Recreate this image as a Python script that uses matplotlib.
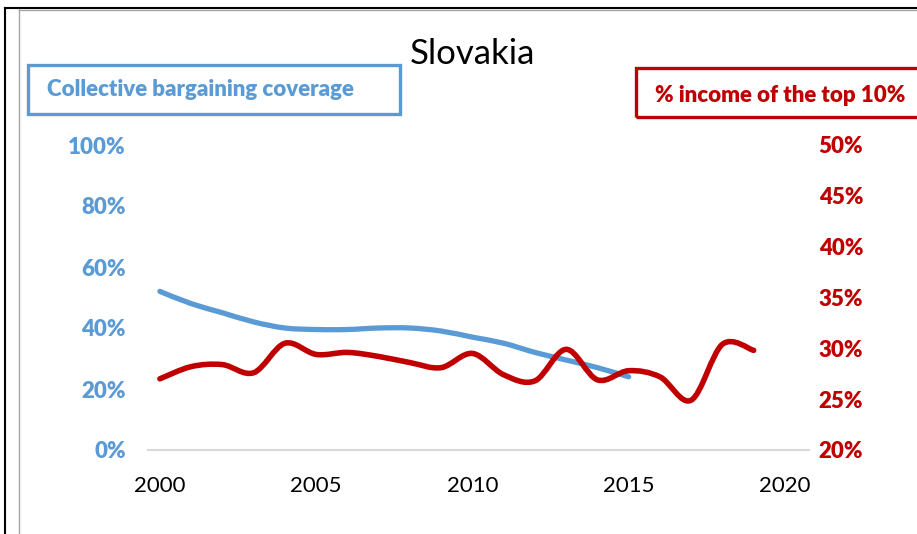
import numpy as np
import matplotlib
matplotlib.use('Agg')
import matplotlib.pyplot as plt
from matplotlib.path import Path
from matplotlib.patches import PathPatch, Rectangle
from matplotlib.lines import Line2D

plt.rcParams['font.family'] = ['Lato', 'DejaVu Sans']

# data
years_cb = [2000, 2001, 2002, 2003, 2004, 2005, 2006, 2007, 2008, 2009, 2010, 2011, 2012, 2013, 2014, 2015]
coverage = [0.52, 0.48, 0.45, 0.42, 0.40, 0.395, 0.395, 0.40, 0.40, 0.39, 0.37, 0.35, 0.32, 0.295, 0.27, 0.24]

years_top = list(range(2000, 2020))
top10 = [0.270, 0.282, 0.284, 0.276, 0.305, 0.294, 0.296, 0.292, 0.286, 0.281,
         0.295, 0.274, 0.268, 0.299, 0.269, 0.278, 0.272, 0.249, 0.304, 0.298]

left_ticks = [0, 0.2, 0.4, 0.6, 0.8, 1.0]
right_ticks = [0.20, 0.25, 0.30, 0.35, 0.40, 0.45, 0.50]
x_ticks = [2000, 2005, 2010, 2015, 2020]

BLUE = '#5B9BD5'
RED = '#C00000'


def smooth_path(xs, ys):
    # excel-like smoothed line: catmull-rom segments as cubic beziers
    p = np.column_stack([xs, ys]).astype(float)
    verts = [p[0]]
    codes = [Path.MOVETO]
    n = len(p)
    for i in range(n - 1):
        p0 = p[i - 1] if i > 0 else p[i]
        p1 = p[i]
        p2 = p[i + 1]
        p3 = p[i + 2] if i + 2 < n else p[i + 1]
        verts += [p1 + (p2 - p0) / 6, p2 - (p3 - p1) / 6, p2]
        codes += [Path.CURVE4] * 3
    return Path(verts, codes)


fig = plt.figure(figsize=(9.17, 5.34), dpi=100)
W, H = 917, 534

ax = fig.add_axes([148 / W, 1 - 450 / H, 661 / W, 305 / H])
ax2 = ax.twinx()

ax.set_xlim(1999.62, 2020.77)
ax.set_ylim(0, 1.0)
ax2.set_ylim(0.20, 0.50)

ax.add_patch(PathPatch(smooth_path(years_cb, coverage), facecolor='none',
                       edgecolor=BLUE, lw=3.8, capstyle='round', joinstyle='round'))
ax2.add_patch(PathPatch(smooth_path(years_top, top10), facecolor='none',
                        edgecolor=RED, lw=4.0, capstyle='round', joinstyle='round'))

for a in (ax, ax2):
    for s in a.spines.values():
        s.set_visible(False)
ax.spines['bottom'].set_visible(True)
ax.spines['bottom'].set_color('#D9D9D9')
ax.spines['bottom'].set_linewidth(1.5)

ax.set_xticks(x_ticks)
ax.set_xticklabels([str(x) for x in x_ticks], fontsize=16)
ax.set_yticks(left_ticks)
ax.set_yticklabels([f'{int(round(v * 100))}%' for v in left_ticks],
                   fontsize=16, fontweight='heavy', color=BLUE)
ax2.set_yticks(right_ticks)
ax2.set_yticklabels([f'{int(round(v * 100))}%' for v in right_ticks],
                    fontsize=16, fontweight='heavy', color=RED)
ax.tick_params(axis='x', length=0, pad=19)
ax.tick_params(axis='y', length=0, pad=16)
ax2.tick_params(axis='y', length=0, pad=7)

fig.text(472 / W, 1 - 54 / H, 'Slovakia', fontsize=25, ha='center', va='center')

# legend boxes
fig.patches.append(Rectangle((28 / W, 1 - 114 / H), 372 / W, 49 / H, transform=fig.transFigure,
                             fill=False, edgecolor=BLUE, lw=2.4))
fig.text(200 / W, 1 - 90 / H, 'Collective bargaining coverage', color=BLUE,
         fontsize=16, fontweight='heavy', ha='center', va='center')
fig.patches.append(Rectangle((636 / W, 1 - 117 / H), 300 / W, 49 / H, transform=fig.transFigure,
                             fill=False, edgecolor=RED, lw=2.4))
fig.text(780 / W, 1 - 95 / H, '% income of the top 10%', color=RED,
         fontsize=16, fontweight='heavy', ha='center', va='center')

# frame lines around the chart area
fig.lines.append(Line2D([5 / W, 5 / W], [0, 1 - 8 / H], transform=fig.transFigure, color='black', lw=1.5))
fig.lines.append(Line2D([5 / W, 1], [1 - 8 / H, 1 - 8 / H], transform=fig.transFigure, color='black', lw=1.5))
fig.lines.append(Line2D([19 / W, 19 / W], [0, 1 - 9 / H], transform=fig.transFigure, color='#A6A6A6', lw=1))
fig.lines.append(Line2D([19 / W, 1], [1 - 10 / H, 1 - 10 / H], transform=fig.transFigure, color='#A6A6A6', lw=1))

fig.savefig('out.png', dpi=100)
